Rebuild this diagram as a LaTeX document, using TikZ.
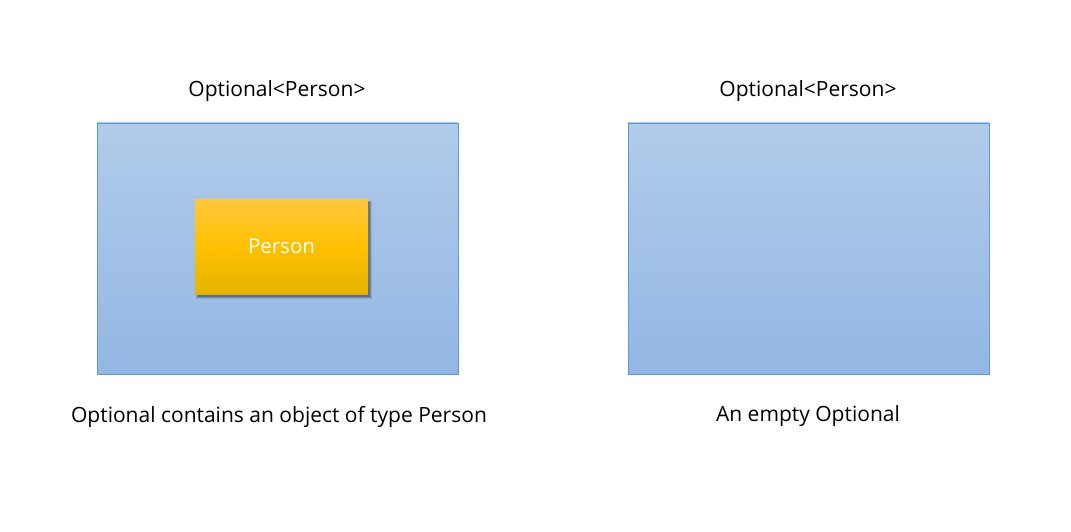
\documentclass[tikz,border=0pt]{standalone}
\usepackage{fontspec}
\setmainfont{Open Sans}
\definecolor{boxtop}{HTML}{B1CBEA}
\definecolor{boxbot}{HTML}{93B7E3}
\definecolor{boxline}{HTML}{5B9BD5}
\definecolor{ptop}{HTML}{FFC83D}
\definecolor{pmid}{HTML}{FFC000}
\definecolor{pbot}{HTML}{E5B300}
\tikzset{
  outerbox/.style={draw=boxline, line width=0.8pt, top color=boxtop, bottom color=boxbot, minimum width=361pt, minimum height=251pt, inner sep=0pt},
  personbox/.style={top color=ptop, bottom color=pbot, middle color=pmid, minimum width=173pt, minimum height=95pt, inner sep=0pt, text=white, font=\fontsize{20.5}{24}\selectfont},
  lbl/.style={font=\fontsize{21}{25}\selectfont, inner sep=0pt}
}
\begin{document}
\begin{tikzpicture}[x=1pt,y=-1pt]
\useasboundingbox (0,0) rectangle (1071,532);
\node[outerbox] (left) at (277.5,248.5) {};
\node[outerbox] (right) at (808.5,248.5) {};
\fill[black, opacity=0.10] (196,200.5) rectangle (371.5,298.5);
\fill[black, opacity=0.16] (197,201) rectangle (370.5,297.5);
\fill[black, opacity=0.22] (197.5,201.5) rectangle (369.5,296.5);
\node[personbox] (person) at (281.5,246.5) {\raisebox{-2pt}{Person}};
\node[lbl] (ltitle) at (277,91.5) {Optional<Person>};
\node[lbl] (rtitle) at (808,91.5) {Optional<Person>};
\node[lbl] (lcap) at (279,416.5) {Optional contains an object of type Person};
\node[lbl] (rcap) at (808,416.5) {An empty Optional};
\end{tikzpicture}
\end{document}
